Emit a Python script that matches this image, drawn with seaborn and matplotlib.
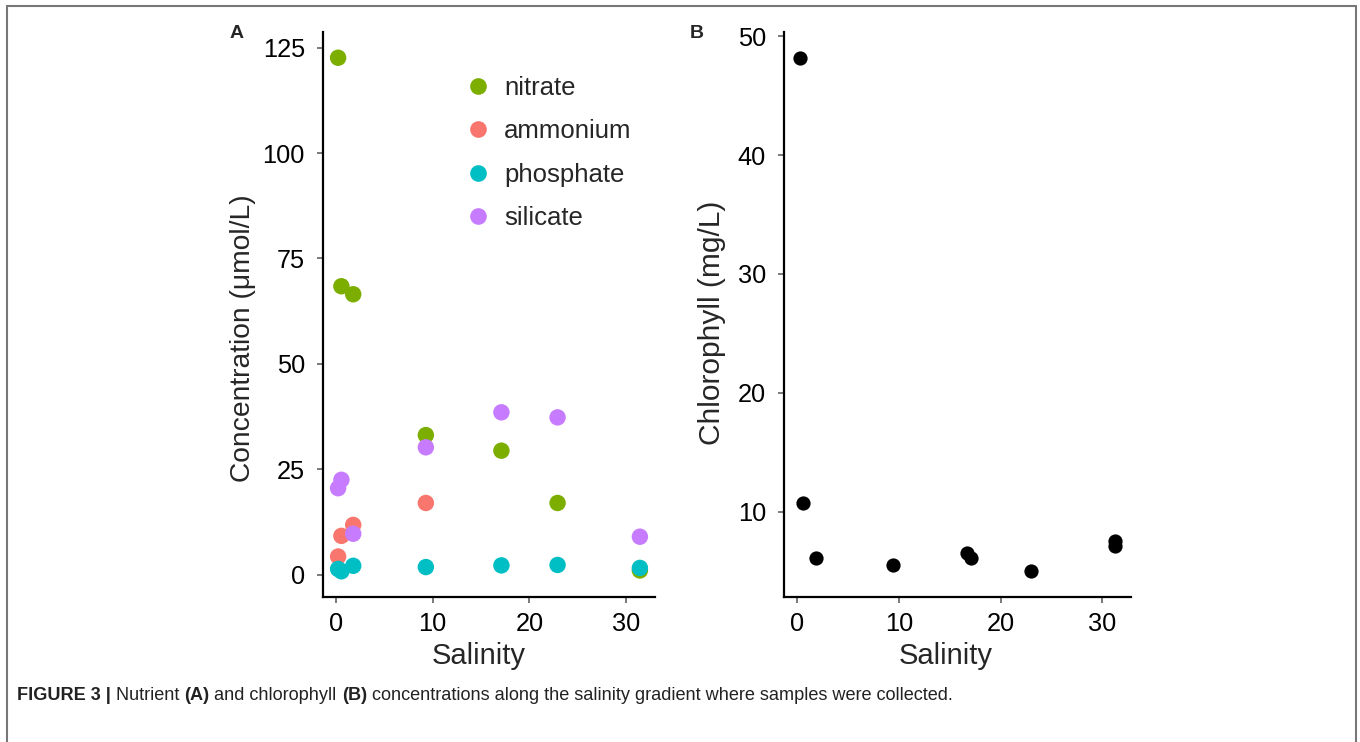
import matplotlib
matplotlib.use("Agg")
import matplotlib.pyplot as plt
from matplotlib.lines import Line2D
import seaborn as sns
import pandas as pd

# ---- data ----
salinity_a = [0.24, 0.58, 1.8, 9.3, 17.1, 22.9, 31.4]
nitrate = [122.6, 68.4, 66.5, 33.1, 29.4, 17.0, 1.0]
ammonium_sal = [0.24, 0.58, 1.8, 9.3]
ammonium_vals = [4.3, 9.2, 11.8, 17.0]
silicate = [20.5, 22.5, 9.7, 30.2, 38.5, 37.3, 9.0]
phosphate = [1.35, 0.8, 2.1, 1.8, 2.2, 2.3, 1.6]

salinity_b = [0.23, 0.55, 1.8, 9.4, 16.7, 17.1, 23.0, 31.25, 31.3]
chlorophyll = [48.2, 10.7, 6.07, 5.5, 6.5, 6.1, 4.97, 7.56, 7.1]

legend_order = ["nitrate", "ammonium", "phosphate", "silicate"]
palette = {"nitrate": "#7CAE00", "ammonium": "#F8766D",
           "phosphate": "#00BFC4", "silicate": "#C77CFF"}

rows = []
for s, v in zip(salinity_a, nitrate):
    rows.append(("nitrate", s, v))
for s, v in zip(ammonium_sal, ammonium_vals):
    rows.append(("ammonium", s, v))
for s, v in zip(salinity_a, silicate):
    rows.append(("silicate", s, v))
for s, v in zip(salinity_a, phosphate):
    rows.append(("phosphate", s, v))
df_a = pd.DataFrame(rows, columns=["nutrient", "Salinity", "Concentration"])
df_b = pd.DataFrame({"Salinity": salinity_b, "Chlorophyll": chlorophyll})

sns.set_theme(style="ticks")
plt.rcParams["font.family"] = ["Liberation Sans", "DejaVu Sans"]

W, H = 1360, 742
fig = plt.figure(figsize=(W / 100, H / 100), dpi=100)
fig.patch.set_facecolor("white")

ax1 = fig.add_axes([323 / W, (H - 597) / H, 332 / W, 565 / H])
ax2 = fig.add_axes([784 / W, (H - 597) / H, 347 / W, 565 / H])

sns.scatterplot(data=df_a, x="Salinity", y="Concentration", hue="nutrient",
                palette=palette, s=140, linewidth=0, legend=False, ax=ax1)
sns.scatterplot(data=df_b, x="Salinity", y="Chlorophyll", color="black",
                s=105, linewidth=0, ax=ax2)

ax1.set_xlim(-1.32, 32.96)
ax1.set_ylim(-5.3, 128.7)
ax1.set_xticks([0, 10, 20, 30])
ax1.set_yticks([0, 25, 50, 75, 100, 125])
ax2.set_xlim(-1.32, 32.85)
ax2.set_ylim(2.81, 50.36)
ax2.set_xticks([0, 10, 20, 30])
ax2.set_yticks([10, 20, 30, 40, 50])

ax1.set_ylabel("Concentration (μmol/L)", fontsize=20.3)
ax2.set_ylabel("Chlorophyll (mg/L)", fontsize=21.5)
for ax in (ax1, ax2):
    sns.despine(ax=ax)
    ax.set_xlabel("Salinity", fontsize=21)
    ax.xaxis.label.set_va("center")
    ax.yaxis.label.set_va("center")
    ax.tick_params(axis="both", labelsize=18.3, length=4, width=1.1,
                   color="#555555", labelcolor="black", pad=7)
    ax.tick_params(axis="y", pad=9)
    for sp in ("left", "bottom"):
        ax.spines[sp].set_linewidth(1.6)
        ax.spines[sp].set_color("black")
    ax.set_facecolor("white")
ax1.yaxis.set_label_coords(-0.241, 0.458)
ax2.yaxis.set_label_coords(-0.2075, 0.485)
ax1.xaxis.set_label_coords(0.468, -0.105)
ax2.xaxis.set_label_coords(0.465, -0.105)

handles = [Line2D([], [], marker="o", linestyle="", markersize=12,
                  markerfacecolor=palette[k], markeredgewidth=0, label=k)
           for k in legend_order]
ax1.legend(handles=handles, loc="upper left", bbox_to_anchor=(0.39, 0.94),
           frameon=False, fontsize=18.5, labelspacing=0.75,
           handletextpad=0.4, handlelength=1.2, borderaxespad=0)

fig.text(237 / W, 1 - 33 / H, "A", fontsize=14, fontweight="bold",
         ha="center", va="center")
fig.text(697 / W, 1 - 33 / H, "B", fontsize=14, fontweight="bold",
         ha="center", va="center")

# frame lines
lc = "#777777"
fig.add_artist(Line2D([7 / W, 7 / W], [0, 1 - 6 / H], color=lc, lw=1.5,
                      transform=fig.transFigure))
fig.add_artist(Line2D([7 / W, 1356 / W], [1 - 6 / H, 1 - 6 / H], color=lc,
                      lw=1.5, transform=fig.transFigure))
fig.add_artist(Line2D([1356 / W, 1356 / W], [0, 1 - 6 / H], color=lc, lw=1.5,
                      transform=fig.transFigure))

# caption
pieces = [("FIGURE 3 | ", "bold"), ("Nutrient ", "normal"), ("(A)", "bold"),
          (" and chlorophyll ", "normal"), ("(B)", "bold"),
          (" concentrations along the salinity gradient where samples were collected.",
           "normal")]
target_w = 938
fs = 12.0
renderer = fig.canvas.get_renderer()
for _ in range(3):
    texts = []
    x = 17
    for t, w in pieces:
        txt = fig.text(x / W, 1 - 696 / H, t, fontsize=fs, fontweight=w,
                       color="#222222", ha="left", va="center")
        bb = txt.get_window_extent(renderer=renderer)
        x += bb.width
        texts.append(txt)
    total = x - 17
    if abs(total - target_w) < 3:
        break
    for txt in texts:
        txt.remove()
    fs = fs * target_w / total

fig.savefig("out.png", dpi=100, facecolor="white")
